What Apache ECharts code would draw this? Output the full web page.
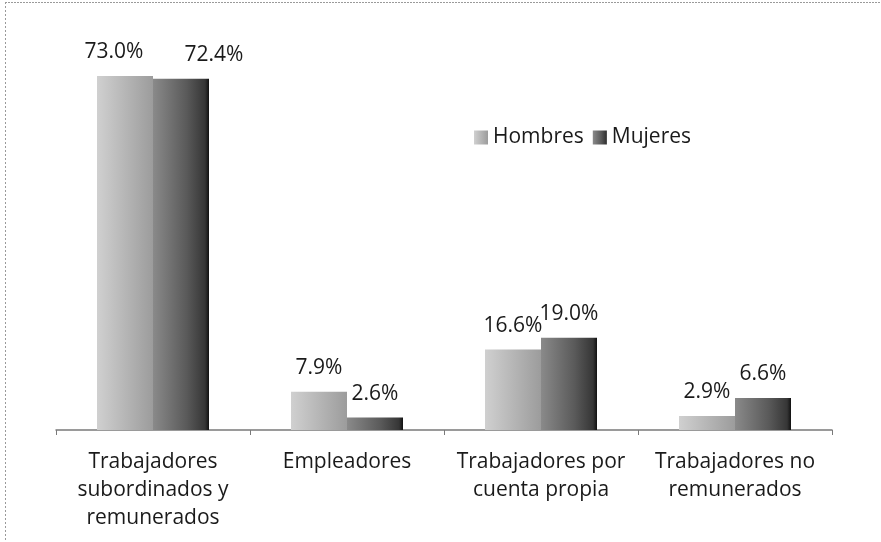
<!DOCTYPE html>
<html>
<head>
<meta charset="utf-8">
<script src="https://cdn.jsdelivr.net/npm/echarts@6/dist/echarts.min.js"></script>
<style>
  html, body { margin: 0; padding: 0; background: #ffffff; }
  #chart { width: 881px; height: 542px; }
</style>
</head>
<body>
<div id="chart"></div>
<script>
const categories = [
  'Trabajadores\nsubordinados y\nremunerados',
  'Empleadores',
  'Trabajadores por\ncuenta propia',
  'Trabajadores no\nremunerados'
];
const seriesNames = ['Hombres', 'Mujeres'];
const hombres = [73.0, 7.9, 16.6, 2.9];
const mujeres = [72.4, 2.6, 19.0, 6.6];

const FONT = '"Open Sans", "Liberation Sans", sans-serif';

const chart = echarts.init(document.getElementById('chart'), null, { renderer: 'canvas' });

function grad(stops) {
  return new echarts.graphic.LinearGradient(0, 0, 1, 0, stops);
}

function toData(vals, offsets) {
  return vals.map((v, i) => {
    const d = { value: v };
    if (offsets && offsets[i]) d.label = { offset: offsets[i] };
    return d;
  });
}

const option = {
  backgroundColor: '#ffffff',
  animation: false,
  textStyle: { fontFamily: FONT },
  grid: { left: 56, right: 49, top: 42, bottom: 112, containLabel: false },
  legend: {
    data: seriesNames,
    left: 469,
    top: 122,
    itemWidth: 14,
    itemHeight: 14,
    itemGap: 9,
    textStyle: { fontSize: 21, color: '#1a1a1a', fontFamily: FONT },
    icon: 'rect'
  },
  xAxis: {
    type: 'category',
    data: categories,
    axisLine: { show: true, lineStyle: { color: '#7a7a7a', width: 1.5 } },
    axisTick: { show: true, length: 5, lineStyle: { color: '#7a7a7a' } },
    axisLabel: {
      fontSize: 21,
      color: '#1a1a1a',
      lineHeight: 28,
      margin: 18,
      interval: 0,
      fontFamily: FONT
    }
  },
  yAxis: {
    type: 'value',
    min: 0,
    max: 80,
    show: false,
    splitLine: { show: false }
  },
  series: [
    {
      name: seriesNames[0],
      type: 'bar',
      barWidth: 56,
      barGap: '0%',
      data: toData(hombres, [[-11, 0], null, null, null]),
      itemStyle: {
        color: grad([
          { offset: 0, color: '#d0d0d0' },
          { offset: 0.5, color: '#b6b6b6' },
          { offset: 1, color: '#9c9c9c' }
        ])
      },
      label: {
        show: true,
        position: 'top',
        distance: 13,
        fontSize: 21,
        color: '#1a1a1a',
        fontFamily: FONT,
        formatter: p => p.value.toFixed(1) + '%'
      }
    },
    {
      name: seriesNames[1],
      type: 'bar',
      barWidth: 56,
      barGap: '0%',
      data: toData(mujeres, [[33, 0], null, null, null]),
      itemStyle: {
        color: grad([
          { offset: 0, color: '#8a8a8a' },
          { offset: 0.6, color: '#5a5a5a' },
          { offset: 0.93, color: '#363636' },
          { offset: 1, color: '#111111' }
        ])
      },
      label: {
        show: true,
        position: 'top',
        distance: 13,
        fontSize: 21,
        color: '#1a1a1a',
        fontFamily: FONT,
        formatter: p => p.value.toFixed(1) + '%'
      }
    }
  ],
  graphic: [
    { type: 'line', shape: { x1: 5, y1: 2.5, x2: 881, y2: 2.5 }, style: { stroke: '#9a9a9a', lineWidth: 1, lineDash: [2, 1] } },
    { type: 'line', shape: { x1: 5.5, y1: 2, x2: 5.5, y2: 542 }, style: { stroke: '#9a9a9a', lineWidth: 1, lineDash: [2, 2] } }
  ]
};

chart.setOption(option);
</script>
</body>
</html>
